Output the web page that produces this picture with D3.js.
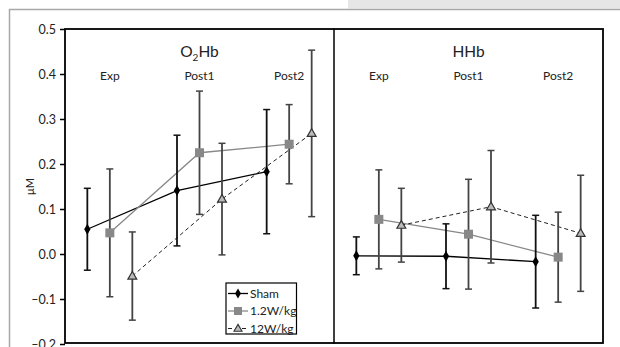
<!DOCTYPE html>
<html><head><meta charset="utf-8">
<script src="https://cdn.jsdelivr.net/npm/d3@7"></script>
<style>body{margin:0;background:#fff}svg{display:block;font-family:Lato,"Noto Sans",sans-serif}</style>
</head><body>
<svg id="c" width="620" height="347"></svg>
<script>
const categories = ["Exp", "Post1", "Post2"];
const panels = ["O2Hb", "HHb"];
const seriesNames = ["Sham", "1.2W/kg", "12W/kg"];
const yTicks = [-0.2, -0.1, 0.0, 0.1, 0.2, 0.3, 0.4, 0.5];

// O2Hb panel
const shamO2Hb = [0.055, 0.141, 0.183];
const shamO2HbErr = [0.091, 0.123, 0.138];
const w12O2Hb = [0.047, 0.225, 0.244];
const w12O2HbErr = [0.142, 0.137, 0.088];
const w120O2Hb = [-0.049, 0.122, 0.268];
const w120O2HbErr = [0.098, 0.124, 0.185];
// HHb panel
const shamHHb = [-0.004, -0.005, -0.017];
const shamHHbErr = [0.042, 0.072, 0.103];
const w12HHb = [0.077, 0.044, -0.007];
const w12HHbErr = [0.110, 0.122, 0.100];
const w120HHb = [0.064, 0.105, 0.046];
const w120HHbErr = [0.082, 0.125, 0.129];

const data = {
  O2Hb: [[shamO2Hb, shamO2HbErr], [w12O2Hb, w12O2HbErr], [w120O2Hb, w120O2HbErr]],
  HHb: [[shamHHb, shamHHbErr], [w12HHb, w12HHbErr], [w120HHb, w120HHbErr]]
};

const svg = d3.select("#c");
const L = 65, R = 603, T = 29, B = 344, MID = 334;

// outer decorations (page crop)
svg.append("rect").attr("x", 348).attr("y", 0).attr("width", 272).attr("height", 8.5).attr("fill", "#e6e6e6");
svg.append("line").attr("x1", 9).attr("x2", 620).attr("y1", 9.5).attr("y2", 9.5).attr("stroke", "#a8a8a8").attr("stroke-width", 1.5);
svg.append("line").attr("x1", 9.5).attr("x2", 9.5).attr("y1", 9).attr("y2", 347).attr("stroke", "#a8a8a8").attr("stroke-width", 1.5);

const y = d3.scaleLinear().domain([-0.2, 0.5]).range([B, T]);
const xPanel = d3.scaleBand().domain(panels).range([L, R]);
const seriesOff = d3.scalePoint().domain(seriesNames).range([-22.5, 22.5]);

// y axis
const fmt = v => d3.format(".1f")(v).replace("−", "–").replace("-", "–");
const yAxis = d3.axisLeft(y).tickValues(yTicks).tickFormat(fmt).tickSize(5).tickPadding(4);
const ga = svg.append("g").attr("transform", `translate(${L},0)`).call(yAxis);
ga.select(".domain").remove();
ga.selectAll(".tick line").attr("stroke", "#000").attr("stroke-width", 1.5);
ga.selectAll(".tick text").attr("font-size", 12.5).attr("fill", "#222").style("font-family", "Lato, 'Noto Sans', sans-serif");

svg.append("text").attr("transform", `translate(34,${(T + B) / 2}) rotate(-90)`)
  .attr("text-anchor", "middle").attr("font-size", 11).attr("fill", "#222").text("μM");

const styles = [
  { line: "#000", width: 1.3, dash: null, err: "#111" },
  { line: "#888", width: 1.3, dash: null, err: "#444" },
  { line: "#222", width: 1, dash: "4,3", err: "#444" }
];

panels.forEach(p => {
  const x = d3.scaleBand().domain(categories).range([xPanel(p), xPanel(p) + xPanel.bandwidth()]);
  const cx = (c, s) => x(c) + x.bandwidth() / 2 + seriesOff(s);
  const g = svg.append("g");

  // title
  const t = g.append("text").attr("x", xPanel(p) + xPanel.bandwidth() / 2 - (p === "O2Hb" ? 0 : 0)).attr("y", 57)
    .attr("text-anchor", "middle").attr("font-size", 15.5).attr("fill", "#222");
  if (p === "O2Hb") {
    t.append("tspan").text("O");
    t.append("tspan").attr("font-size", 10).attr("dy", 4).text("2");
    t.append("tspan").attr("dy", -4).text("Hb");
  } else t.text(p);

  // category labels
  g.selectAll(".cat").data(categories).join("text")
    .attr("x", c => x(c) + x.bandwidth() / 2).attr("y", 80)
    .attr("text-anchor", "middle").attr("font-size", 12).attr("fill", "#222").text(c => c);

  seriesNames.forEach((s, i) => {
    const [vals, errs] = data[p][i];
    const st = styles[i];
    const pts = categories.map((c, k) => ({ c, v: vals[k], e: errs[k] }));
    g.append("path").datum(pts)
      .attr("d", d3.line().x(d => cx(d.c, s)).y(d => y(d.v)))
      .attr("fill", "none").attr("stroke", st.line).attr("stroke-width", st.width)
      .attr("stroke-dasharray", st.dash);
  });
  seriesNames.forEach((s, i) => {
    const [vals, errs] = data[p][i];
    const st = styles[i];
    const pts = categories.map((c, k) => ({ c, v: vals[k], e: errs[k] }));
    const eg = g.append("g").attr("stroke", st.err);
    pts.forEach(d => {
      const xx = cx(d.c, s);
      eg.append("line").attr("x1", xx).attr("x2", xx).attr("y1", y(d.v + d.e)).attr("y2", y(d.v - d.e)).attr("stroke-width", 1.8);
      eg.append("line").attr("x1", xx - 3.5).attr("x2", xx + 3.5).attr("y1", y(d.v + d.e)).attr("y2", y(d.v + d.e)).attr("stroke-width", 1.5);
      eg.append("line").attr("x1", xx - 3.5).attr("x2", xx + 3.5).attr("y1", y(d.v - d.e)).attr("y2", y(d.v - d.e)).attr("stroke-width", 1.5);
    });
  });
  seriesNames.forEach((s, i) => {
    const [vals] = data[p][i];
    categories.forEach((c, k) => {
      const xx = cx(c, s), yy = y(vals[k]);
      if (i === 0) g.append("path").attr("d", d3.symbol(d3.symbolDiamond, 34)()).attr("transform", `translate(${xx},${yy})`).attr("fill", "#000");
      else if (i === 1) g.append("rect").attr("x", xx - 4.5).attr("y", yy - 4.5).attr("width", 9).attr("height", 9).attr("fill", "#888");
      else g.append("path").attr("d", d3.symbol(d3.symbolTriangle, 34)()).attr("transform", `translate(${xx},${yy + 0.5})`).attr("fill", "#bbb").attr("stroke", "#333").attr("stroke-width", 1.2);
    });
  });
});

// frame
svg.append("rect").attr("x", L).attr("y", T).attr("width", R - L).attr("height", B - T - 1)
  .attr("fill", "none").attr("stroke", "#000").attr("stroke-width", 1.8);
svg.append("line").attr("x1", MID).attr("x2", MID).attr("y1", T).attr("y2", B).attr("stroke", "#000").attr("stroke-width", 1.5);

// legend
const lg = svg.append("g").attr("transform", "translate(226,283)");
lg.append("rect").attr("width", 70.5).attr("height", 51).attr("fill", "#fff").attr("stroke", "#000").attr("stroke-width", 1.2);
seriesNames.forEach((s, i) => {
  const yy = 10.5 + i * 17.5;
  const st = styles[i];
  lg.append("line").attr("x1", 2).attr("x2", 22).attr("y1", yy).attr("y2", yy)
    .attr("stroke", st.line).attr("stroke-width", st.width).attr("stroke-dasharray", st.dash);
  if (i === 0) lg.append("path").attr("d", d3.symbol(d3.symbolDiamond, 30)()).attr("transform", `translate(12,${yy})`).attr("fill", "#000");
  else if (i === 1) lg.append("rect").attr("x", 8).attr("y", yy - 4).attr("width", 8).attr("height", 8).attr("fill", "#888");
  else lg.append("path").attr("d", d3.symbol(d3.symbolTriangle, 28)()).attr("transform", `translate(12,${yy + 0.5})`).attr("fill", "#bbb").attr("stroke", "#333").attr("stroke-width", 1.1);
  lg.append("text").attr("x", 24).attr("y", yy + 4).attr("font-size", 12).attr("fill", "#222").text(s);
});
</script>
</body></html>
